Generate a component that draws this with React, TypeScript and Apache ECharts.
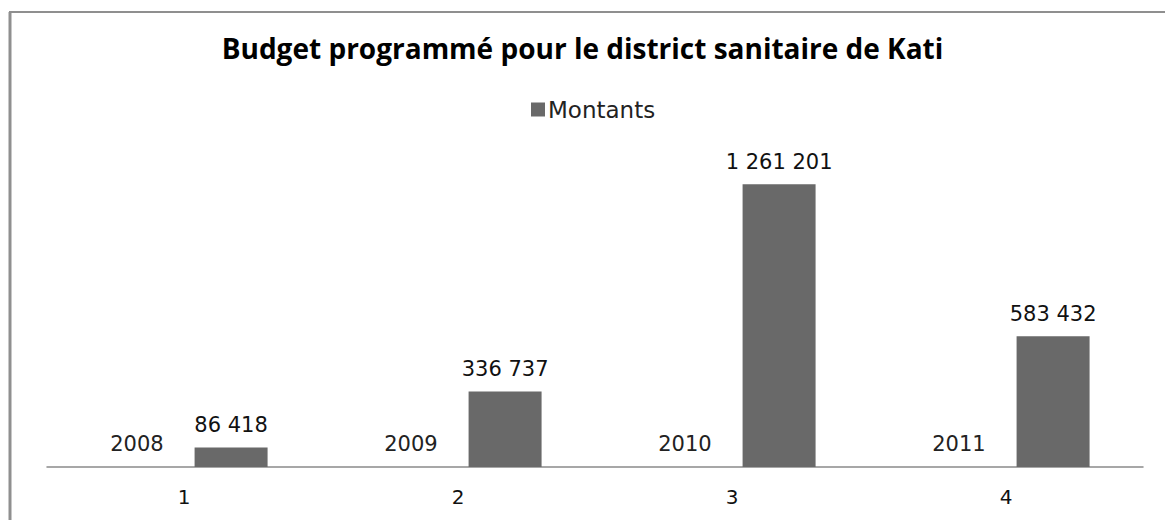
import React, { useEffect, useRef } from "react";
import * as echarts from "echarts";

const categories = ["1", "2", "3", "4"];
const years = [2008, 2009, 2010, 2011];
const montants = [86418, 336737, 1261201, 583432];
const titleText = "Budget programmé pour le district sanitaire de Kati";
const seriesYearName = "Année";
const seriesAmountName = "Montants";

function fmt(v: number): string {
  return String(v).replace(/\B(?=(\d{3})+(?!\d))/g, " ");
}

export default function App() {
  const ref = useRef<HTMLDivElement>(null);
  useEffect(() => {
    if (!ref.current) return;
    const chart = echarts.init(ref.current, null, { renderer: "svg" });
    chart.setOption({
      animation: false,
      backgroundColor: "#ffffff",
      title: {
        text: titleText,
        left: "center",
        top: 29,
        textStyle: {
          fontFamily: "Open Sans",
          fontWeight: "bold",
          fontSize: 28,
          color: "#000000",
        },
      },
      legend: {
        data: [seriesAmountName],
        left: 526,
        top: 93,
        itemWidth: 14,
        itemHeight: 14,
        itemGap: 4,
        icon: "rect",
        textStyle: { fontFamily: "DejaVu Sans", fontSize: 23, color: "#222222", padding: [0, 0, 0, -2] },
      },
      graphic: [
        { type: "line", shape: { x1: 10, y1: 12, x2: 10, y2: 520 }, style: { stroke: "#8f8f8f", lineWidth: 3 } },
        { type: "line", shape: { x1: 9, y1: 12, x2: 1165, y2: 12 }, style: { stroke: "#8f8f8f", lineWidth: 2 } },
      ],
      grid: { left: 47, right: 22, top: 153, bottom: 53 },
      xAxis: {
        type: "category",
        data: categories,
        axisLine: { lineStyle: { color: "#8a8a8a", width: 1.5 } },
        axisTick: { show: false },
        axisLabel: { fontFamily: "DejaVu Sans", fontSize: 20, color: "#111111", margin: 20 },
      },
      yAxis: {
        type: "value",
        min: 0,
        max: 1400000,
        show: false,
        splitLine: { show: false },
      },
      series: [
        {
          name: seriesYearName,
          type: "bar",
          data: years,
          barWidth: 73,
          barGap: "29%",
          itemStyle: { color: "transparent" },
          label: {
            show: true,
            position: "top",
            distance: 12,
            fontFamily: "DejaVu Sans",
            fontSize: 21,
            color: "#222222",
            formatter: (p: any) => String(p.value),
          },
        },
        {
          name: seriesAmountName,
          type: "bar",
          data: montants,
          barWidth: 73,
          itemStyle: { color: "#696969" },
          label: {
            show: true,
            position: "top",
            distance: 12,
            fontFamily: "DejaVu Sans",
            fontSize: 21,
            color: "#111111",
            formatter: (p: any) => fmt(p.value),
          },
        },
      ],
    });
    return () => chart.dispose();
  }, []);
  return (
    <div
      ref={ref}
      style={{ position: "absolute", left: 0, top: 0, width: 1165, height: 520 }}
    />
  );
}
